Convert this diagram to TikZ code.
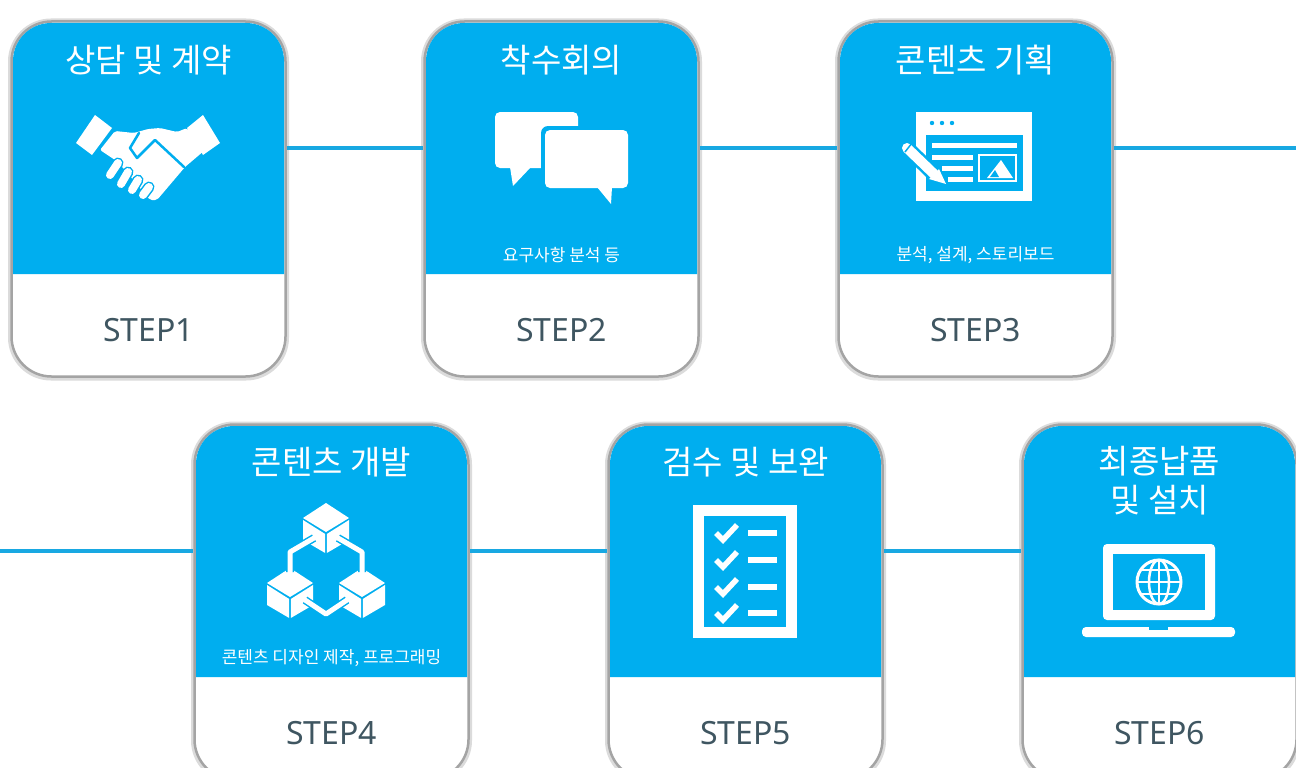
\documentclass[tikz,border=0pt]{standalone}
\usepackage{fontspec}
\setmainfont{Noto Sans}
\newfontfamily\kr{Noto Sans CJK KR}
\definecolor{skyb}{HTML}{00AEEF}
\definecolor{linkb}{HTML}{18A8E2}
\definecolor{stepink}{HTML}{3F5661}
\definecolor{rimgray}{HTML}{A4A4A4}
\tikzset{
  cardbox/.style={draw=rimgray,line width=2.5pt,fill=white,rounded corners=40pt,minimum width=274pt,minimum height=355pt,inner sep=0pt},
  halo/.style={draw=black!14,line width=6pt,rounded corners=40pt,minimum width=275pt,minimum height=356pt,inner sep=0pt},
  linkline/.style={draw=linkb,line width=3.5pt},
  titletext/.style={text=white,font=\kr\fontsize{33}{39}\selectfont,align=center,inner sep=0pt},
  subtext/.style={text=white,font=\kr\fontsize{17}{20}\selectfont,inner sep=0pt},
  steptext/.style={text=stepink,font=\fontsize{32}{34}\selectfont,inner sep=0pt},
  whiteline/.style={draw=white,line width=#1},
  cubeface/.style={fill=white},
  blueline/.style={draw=skyb,line width=#1},
}
% #1 name, #2 x, #3 y, #4 title, #5 subtitle, #6 step, #7 title centre
\newcommand{\stepcard}[7]{%
  \begin{scope}[shift={(#2,#3)}]
    \node[halo] at (138.5,179.5) {};
    \node[cardbox] (#1) at (138.5,179) {};
    \fill[skyb] (3,254) [rounded corners=38pt] -- (3,3) -- (274,3) [sharp corners] -- (274,254) -- cycle;
    \node[titletext] (#1t) at (138.5,#7) {#4};
    \node[subtext] (#1s) at (138.5,235) {#5};
    \node[steptext] (#1n) at (138.5,310) {#6};
  \end{scope}}
% cube: #1 x of top vertex, #2 y of top vertex
\newcommand{\cubeicon}[2]{%
  \begin{scope}[shift={(#1,#2)}]
    \fill[cubeface] (0,0) -- (23,15) -- (0,29) -- (-23,15) -- cycle;
    \fill[cubeface] (-23,17) -- (-0.8,31) -- (-0.8,50) -- (-23,37) -- cycle;
    \fill[cubeface] (23,17) -- (0.8,31) -- (0.8,50) -- (23,37) -- cycle;
  \end{scope}}
\newcommand{\checkicon}[1]{%
  \draw[whiteline=5.5pt] (716,#1) -- (723,#1+7) -- (737,#1-8);
  \draw[whiteline=6pt] (748,#1) -- (777,#1);}
\newcommand{\fingerline}[4]{%
  \draw[blueline=11pt,line cap=round] (#1,#2) -- (#3,#4);
  \draw[whiteline=8pt,line cap=round] (#1,#2) -- (#3,#4);}
\begin{document}
\begin{tikzpicture}[x=1pt,y=-1pt]
\useasboundingbox (0,0) rectangle (1296,768);
\clip (0,0) rectangle (1296,768);
\fill[white] (0,0) rectangle (1296,768);
\coordinate (outR) at (1296,148);
\coordinate (outL) at (0,551);

\stepcard{c1}{10}{20}{상담 및 계약}{}{STEP1}{40}
\stepcard{c2}{423}{20}{착수회의}{요구사항 분석 등}{STEP2}{40}
\stepcard{c3}{837}{20}{콘텐츠 기획}{분석, 설계, 스토리보드}{STEP3}{40}
\stepcard{c4}{193}{423}{콘텐츠 개발}{콘텐츠 디자인 제작, 프로그래밍}{STEP4}{39}
\stepcard{c5}{607}{423}{검수 및 보완}{}{STEP5}{39}
\stepcard{c6}{1021}{423}{최종납품\\및 설치}{}{STEP6}{58}

\draw[linkline] ([yshift=51pt]c1.east) -- ([yshift=51pt]c2.west);
\draw[linkline] ([yshift=51pt]c2.east) -- ([yshift=51pt]c3.west);
\draw[linkline] ([yshift=51pt]c3.east) -- (outR);
\draw[linkline] (outL) -- ([yshift=51pt]c4.west);
\draw[linkline] ([yshift=51pt]c4.east) -- ([yshift=51pt]c5.west);
\draw[linkline] ([yshift=51pt]c5.east) -- ([yshift=51pt]c6.west);

% handshake
\fill[white] (95,115) -- (112,128) -- (92,155) -- (76,143) -- cycle;
\fill[white] (203,115) -- (220,143) -- (203,155) -- (187,128) -- cycle;
\fill[white,rounded corners=2pt] (115,131) -- (134,133) -- (148,129) -- (160,128) -- (177,132) -- (187,128) -- (205,150) -- (185,167) -- (157,200) -- (150,200) -- (125,170) -- (115,160) -- (100,150) -- cycle;
\fingerline{118}{163}{110}{175}
\fingerline{128}{172}{121}{184}
\fingerline{138}{180}{132}{190}
\fingerline{149}{187}{143}{195}
\draw[blueline=2.5pt,line cap=round,line join=round] (139,133) -- (130,148) -- (137,158) -- (155,140) -- (184,167);

% chat bubbles
\fill[white,rounded corners=5pt] (495,112) -- (578,112) -- (578,168) -- (495,168) -- cycle;
\fill[white] (510,167) -- (531,167) -- (513,186) -- cycle;
\fill[skyb,rounded corners=7pt] (541,126) rectangle (632,192);
\fill[white] (597,187) -- (612,187) -- (611,204) -- cycle;
\fill[white,rounded corners=5pt] (545,130) -- (628,130) -- (628,188) -- (545,188) -- cycle;

% window with pencil
\fill[white] (916,112) rectangle (1032,201);
\fill[skyb] (926,135) rectangle (1023,191);
\fill[skyb] (932,123) circle (2.2) (942,123) circle (2.2) (952,123) circle (2.2);
\draw[whiteline=5pt] (932,145) -- (1017,145);
\draw[whiteline=5pt] (932,157) -- (973,157);
\draw[whiteline=5pt] (942,168) -- (973,168);
\draw[whiteline=5pt] (948,179) -- (973,179);
\draw[whiteline=2.5pt] (979,155) rectangle (1016,181);
\fill[white] (987,178) -- (1001,160) -- (1013,178) -- cycle;
\fill[skyb] (990,177) -- (995,170) -- (999,177) -- cycle;
\draw[blueline=15pt] (905,146) -- (936,176);
\draw[whiteline=10pt,line cap=round] (907,148) -- (934,174);
\fill[white] (929,179) -- (939,169) -- (946,184) -- cycle;
\draw[blueline=1.5pt] (912,143) -- (905,152);

% cubes
\cubeicon{326}{503}
\cubeicon{290}{568}
\cubeicon{362}{568}
\draw[blueline=8pt,line join=round] (314,538) -- (290,552) -- (290,572);
\draw[blueline=8pt,line join=round] (338,538) -- (362,552) -- (362,572);
\draw[blueline=8pt,line join=round] (305,600) -- (326,614) -- (347,600);
\draw[whiteline=5pt,line cap=round,line join=round] (314,538) -- (290,552) -- (290,572);
\draw[whiteline=5pt,line cap=round,line join=round] (338,538) -- (362,552) -- (362,572);
\draw[whiteline=5pt,line cap=round,line join=round] (305,600) -- (326,614) -- (347,600);

% checklist
\draw[whiteline=10.5pt] (698.5,510.5) rectangle (791.5,632.5);
\checkicon{533}
\checkicon{560}
\checkicon{587}
\checkicon{613}

% laptop with globe
\fill[white,rounded corners=4pt] (1103,620) -- (1103,544) -- (1215,544) -- (1215,620) -- cycle;
\fill[skyb] (1113,554) rectangle (1205,610);
\fill[white,rounded corners=4pt] (1082,627) -- (1235,627) -- (1235,637) -- (1082,637) -- cycle;
\fill[skyb] (1149,627) rectangle (1168,630);
\draw[whiteline=3pt] (1159,582) circle (22);
\draw[whiteline=2.5pt] (1159,582) ellipse (10 and 22);
\draw[whiteline=2.5pt] (1159,560) -- (1159,604);
\draw[whiteline=2.5pt] (1137,582) -- (1181,582);
\draw[whiteline=2pt] (1142,570) -- (1176,570);
\draw[whiteline=2pt] (1142,594) -- (1176,594);
\end{tikzpicture}
\end{document}
